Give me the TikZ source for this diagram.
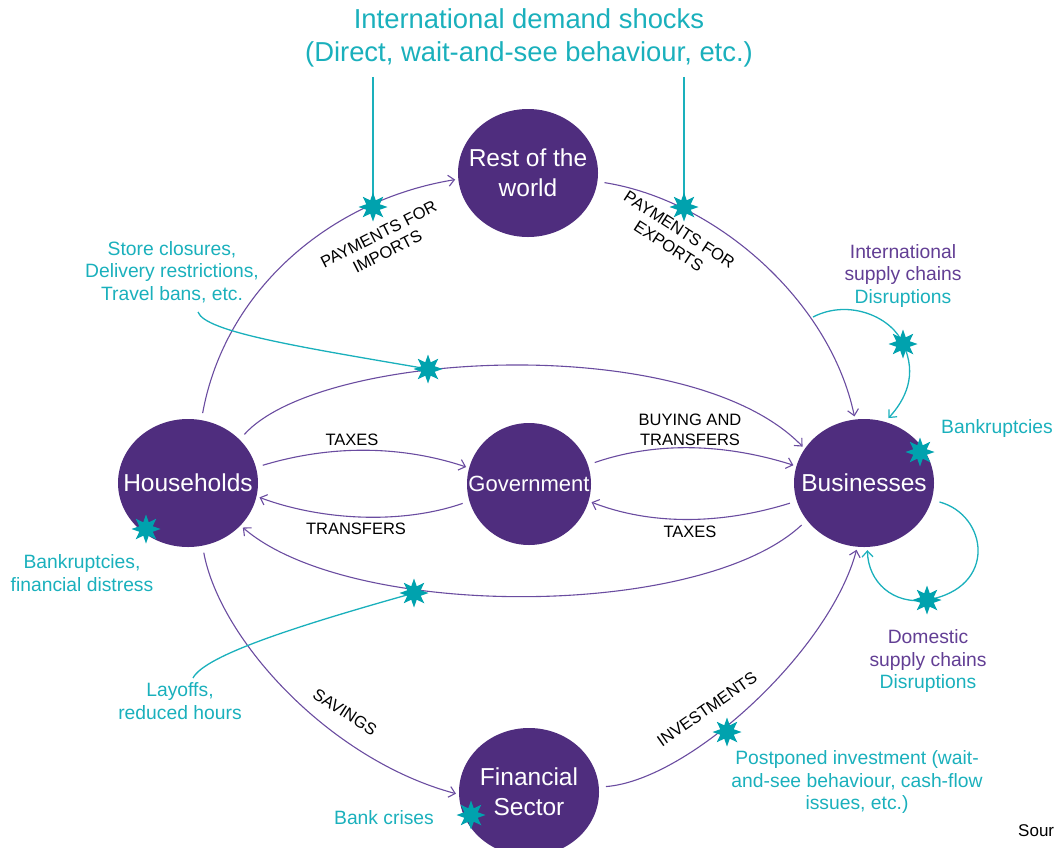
\documentclass[tikz,border=0pt]{standalone}
\usepackage{fontspec}
\setmainfont{Liberation Sans}
\usetikzlibrary{shapes.geometric,arrows.meta}
\pgfdeclarelayer{bg}
\pgfsetlayers{bg,main}
\definecolor{nodefill}{RGB}{79,45,126}
\definecolor{flowpurple}{RGB}{106,76,160}
\definecolor{ptext}{RGB}{98,62,148}
\definecolor{tealtext}{RGB}{26,176,188}
\definecolor{starteal}{RGB}{0,162,174}
\begin{document}
\begin{tikzpicture}[x=1pt,y=-1pt,
  sector/.style={ellipse, fill=nodefill, minimum width=140pt, minimum height=128pt, inner sep=0pt},
  sectext/.style={text=white, align=center, inner sep=0pt, font=\fontsize{24.5}{30}\selectfont},
  burst/.style={star, star points=8, star point ratio=2.0, fill=starteal, minimum size=29pt, inner sep=0pt},
  flow/.style={draw=flowpurple, line width=1.1pt, -{Straight Barb[length=6pt,width=11pt,line width=1.1pt]}, shorten <=7pt, shorten >=3pt},
  tline/.style={draw=tealtext, line width=1.3pt},
  tarrow/.style={tline, -{Straight Barb[length=6pt,width=11pt,line width=1.2pt]}},
  lab/.style={font=\fontsize{16.5}{19.5}\selectfont, align=center, text=black, inner sep=1pt},
  tlab/.style={font=\fontsize{19.3}{22.5}\selectfont, align=center, text=tealtext, inner sep=1pt},
]
\useasboundingbox (0,0) rectangle (1057,847);

% title
\node[font=\fontsize{27.4}{33}\selectfont, text=tealtext, align=center] (title) at (529,38)
  {International demand shocks\\(Direct, wait-and-see behaviour, etc.)};

% sectors
\node[sector, label={[sectext]center:Rest of the\\world}] (row) at (528,173) {};
\node[sector, label={[sectext]center:Households}] (hh) at (188,483) {};
\node[sector, minimum width=124pt, minimum height=122pt, label={[sectext, font=\fontsize{22}{27}\selectfont]center:Government}] (gov) at (529,484) {};
\node[sector, label={[sectext]center:Businesses}] (bus) at (864,483) {};
\node[sector, label={[sectext]center:Financial\\Sector}] (fin) at (529,792) {};

% stars
\node[burst] (s1) at (373,207) {};
\node[burst] (s2) at (684,207) {};
\node[burst] (s3) at (428,369) {};
\node[burst] (s4) at (903,344) {};
\node[burst] (s5) at (920,452) {};
\node[burst] (s6) at (146,529) {};
\node[burst] (s7) at (414,593) {};
\node[burst] (s8) at (927,600) {};
\node[burst] (s9) at (727,732) {};
\node[burst] (s10) at (471,815) {};

% flow labels
\node[lab, rotate=27] (limp) at (383,243) {PAYMENTS FOR\\IMPORTS};
\node[lab, rotate=-33] (lexp) at (674,238) {PAYMENTS FOR\\EXPORTS};
\node[lab] (ltax1) at (352,440) {TAXES};
\node[lab] (ltr) at (356,529) {TRANSFERS};
\node[lab] (lbuy) at (690,430) {BUYING AND\\TRANSFERS};
\node[lab] (ltax2) at (690,532) {TAXES};
\node[lab, rotate=-33] (lsav) at (345,712) {SAVINGS};
\node[lab, rotate=35] (linv) at (707,709) {INVESTMENTS};

% shock labels
\node[tlab] (store) at (172,272) {Store closures,\\Delivery restrictions,\\Travel bans, etc.};
\node[tlab] (intl) at (903,276) {\textcolor{ptext}{International}\\\textcolor{ptext}{supply chains}\\Disruptions};
\node[tlab] (bbank) at (997,428) {Bankruptcies};
\node[tlab] (hbank) at (82,573) {Bankruptcies,\\financial distress};
\node[tlab] (layoff) at (180,701) {Layoffs,\\reduced hours};
\node[tlab] (dom) at (928,661) {\textcolor{ptext}{Domestic}\\\textcolor{ptext}{supply chains}\\Disruptions};
\node[tlab] (post) at (857,782) {Postponed investment (wait-\\and-see behaviour, cash-flow\\issues, etc.)};
\node[tlab] (bcris) at (384,818) {Bank crises};
\node[font=\fontsize{17}{20}\selectfont, anchor=west, inner sep=0pt] (src) at (1018,831) {Sour};

% free ends
\coordinate (c1) at (198,312);
\coordinate (c2) at (193,678);
\coordinate (c3) at (813,317);

\begin{pgfonlayer}{bg}
\draw[flow] (hh.78) .. controls (225,290) and (330,200) .. (row.185);
\draw[flow] (row.-7) .. controls (715,200) and (830,300) .. (bus.98);
\draw[flow] (hh.40) .. controls (320,350) and (690,330) .. (bus.150);
\draw[flow] (bus.213) .. controls (700,620) and (350,620) .. (hh.-39);
\draw[flow] (hh.13) .. controls (330,445) and (400,445) .. (gov.165);
\draw[flow] (gov.196) .. controls (400,525) and (320,520) .. (hh.-11);
\draw[flow] (gov.18) .. controls (660,440) and (730,445) .. (bus.166);
\draw[flow] (bus.195) .. controls (720,525) and (650,525) .. (gov.-16);
\draw[flow] (hh.-77) .. controls (220,640) and (330,760) .. (fin.182);
\draw[flow] (fin.4) .. controls (690,780) and (830,650) .. (bus.264);

\draw[tline, shorten <=6pt] (s1 |- title.south) -- (s1.center);
\draw[tline, shorten <=6pt] (s2 |- title.south) -- (s2.center);
\draw[tline] (c1) .. controls (205,332) and (300,347) .. (s3.center);
\draw[tline] (c2) .. controls (205,655) and (300,625) .. (s7.center);
\draw[tarrow, shorten >=5pt] (c3) .. controls (850,298) and (893,318) .. (s4.center) .. controls (918,375) and (905,400) .. (bus.71);
\draw[tarrow, shorten <=8pt, shorten >=3pt] (bus.-14) .. controls (988,515) and (998,588) .. (s8.center) .. controls (893,605) and (868,582) .. (bus.273);
\end{pgfonlayer}
\end{tikzpicture}
\end{document}
